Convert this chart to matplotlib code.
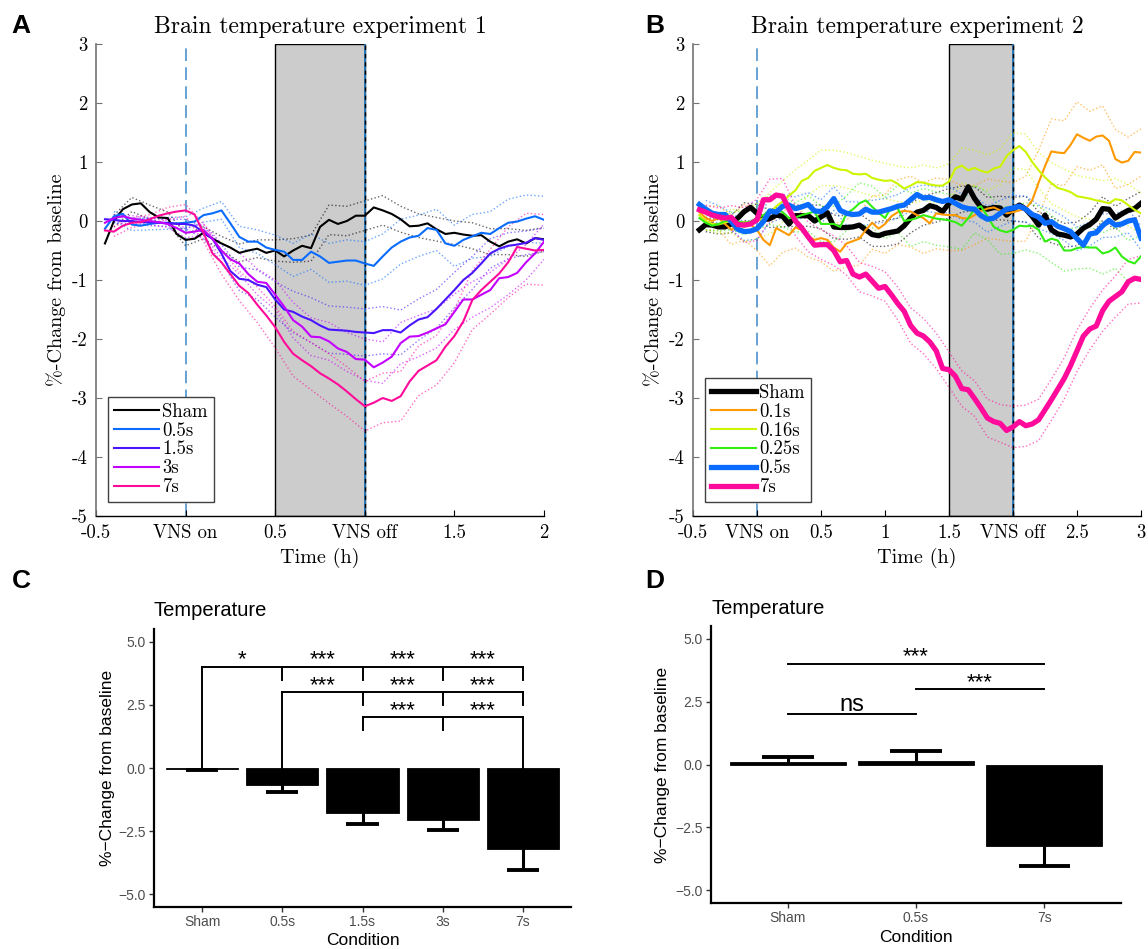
import numpy as np
import matplotlib.pyplot as plt
from matplotlib.patches import Rectangle

plt.rcParams['font.family'] = ['Liberation Sans', 'DejaVu Sans']
plt.rcParams['axes.unicode_minus'] = False

# time bins (h), 3 min apart
time_a = np.round(np.arange(50) * 0.05 - 0.45, 2)
time_b = np.round(np.arange(70) * 0.05 - 0.45, 2)

# ---- experiment 1: mean %-change per group ----
sham_a = [-0.38, 0.0, 0.2, 0.28, 0.3, 0.15, 0.06, 0.05, -0.22, -0.32,
          -0.3, -0.2, -0.3, -0.38, -0.45, -0.54, -0.5, -0.47, -0.54, -0.5,
          -0.6, -0.5, -0.42, -0.46, -0.1, 0.02, -0.05, 0.0, 0.09, 0.09,
          0.23, 0.18, 0.12, 0.03, -0.09, -0.08, -0.04, -0.14, -0.22, -0.2,
          -0.23, -0.25, -0.24, -0.35, -0.43, -0.35, -0.31, -0.38, -0.29, -0.31]
s05_a = [-0.13, 0.08, 0.12, -0.06, -0.08, -0.05, -0.03, -0.04, -0.04, -0.03,
         -0.01, 0.1, 0.13, 0.18, -0.04, -0.27, -0.35, -0.35, -0.45, -0.49,
         -0.52, -0.66, -0.66, -0.52, -0.6, -0.71, -0.69, -0.67, -0.67, -0.72,
         -0.76, -0.6, -0.45, -0.35, -0.28, -0.25, -0.12, -0.15, -0.38, -0.42,
         -0.32, -0.26, -0.2, -0.22, -0.12, -0.03, -0.01, 0.04, 0.08, 0.02]
s15_a = [0.03, 0.02, 0.0, 0.0, -0.02, -0.02, -0.03, -0.03, -0.05, -0.05,
         -0.08, -0.2, -0.3, -0.55, -0.85, -0.98, -1.0, -1.08, -1.12, -1.33,
         -1.5, -1.54, -1.62, -1.68, -1.77, -1.84, -1.85, -1.86, -1.88, -1.89,
         -1.9, -1.85, -1.85, -1.89, -1.77, -1.67, -1.63, -1.49, -1.33, -1.17,
         -1.0, -0.88, -0.72, -0.55, -0.47, -0.42, -0.4, -0.37, -0.29, -0.32]
s3_a = [-0.03, 0.05, 0.08, 0.04, 0.02, 0.0, -0.02, -0.05, -0.12, -0.2,
        -0.18, -0.15, -0.3, -0.5, -0.65, -0.72, -0.9, -1.03, -1.05, -1.25,
        -1.45, -1.68, -1.79, -1.96, -1.97, -2.04, -2.16, -2.22, -2.34, -2.35,
        -2.48, -2.4, -2.3, -2.07, -1.96, -1.95, -1.89, -1.82, -1.75, -1.54,
        -1.33, -1.33, -1.25, -1.17, -0.97, -0.95, -0.88, -0.7, -0.55, -0.35]
s7_a = [-0.16, -0.18, -0.08, -0.03, -0.02, 0.03, 0.09, 0.13, 0.16, 0.18,
        0.11, -0.2, -0.55, -0.7, -0.9, -1.1, -1.22, -1.42, -1.6, -1.8,
        -2.05, -2.25, -2.36, -2.46, -2.58, -2.67, -2.77, -2.89, -3.02, -3.14,
        -3.08, -3.0, -3.05, -2.97, -2.72, -2.54, -2.45, -2.36, -2.13, -1.95,
        -1.7, -1.34, -1.17, -1.03, -0.89, -0.7, -0.44, -0.47, -0.5, -0.49]

# SEM, every second bin (t = -0.4 ... 2.0)
sem_sham_a = [0.1, 0.12, 0.12, 0.1, 0.1, 0.1, 0.12, 0.15, 0.15, 0.18, 0.2, 0.22, 0.25,
              0.25, 0.25, 0.25, 0.22, 0.2, 0.2, 0.2, 0.22, 0.22, 0.22, 0.22, 0.2]
sem_05_a = [0.08, 0.1, 0.1, 0.1, 0.1, 0.12, 0.15, 0.18, 0.2, 0.25, 0.28, 0.3, 0.33,
            0.35, 0.37, 0.38, 0.38, 0.35, 0.35, 0.35, 0.37, 0.38, 0.4, 0.4, 0.4]
sem_15_a = [0.05, 0.05, 0.06, 0.06, 0.08, 0.1, 0.15, 0.2, 0.25, 0.3, 0.35, 0.38, 0.4,
            0.4, 0.4, 0.4, 0.38, 0.35, 0.33, 0.3, 0.28, 0.25, 0.22, 0.2, 0.2]
sem_3_a = [0.05, 0.05, 0.06, 0.06, 0.08, 0.1, 0.12, 0.18, 0.22, 0.25, 0.3, 0.32, 0.32,
           0.33, 0.35, 0.35, 0.35, 0.35, 0.33, 0.3, 0.3, 0.3, 0.3, 0.3, 0.3]
sem_7_a = [0.08, 0.08, 0.08, 0.1, 0.1, 0.15, 0.2, 0.25, 0.3, 0.35, 0.38, 0.4, 0.42,
           0.42, 0.42, 0.42, 0.42, 0.42, 0.42, 0.45, 0.5, 0.55, 0.6, 0.6, 0.6]

# ---- experiment 2 ----
sham_b = [-0.15, -0.06, -0.07, -0.1, -0.1, -0.05, 0.05, 0.16, 0.23, 0.13,
          0.02, 0.04, 0.1, 0.08, -0.05, 0.09, 0.09, 0.09, 0.0, 0.07,
          0.14, -0.1, -0.11, -0.11, -0.1, -0.07, -0.15, -0.23, -0.25, -0.21,
          -0.19, -0.17, -0.08, 0.05, 0.15, 0.18, 0.26, 0.23, 0.16, 0.3,
          0.41, 0.37, 0.58, 0.38, 0.23, 0.2, 0.23, 0.22, 0.1, 0.2,
          0.27, 0.2, 0.08, -0.07, 0.1, -0.15, -0.22, -0.24, -0.27, -0.22,
          -0.12, -0.06, 0.03, 0.21, 0.2, 0.05, 0.12, 0.18, 0.21, 0.3]
s01_b = [0.15, 0.05, 0.0, 0.05, -0.05, -0.15, -0.05, -0.02, -0.06, -0.15,
         -0.32, -0.41, -0.12, -0.18, -0.24, -0.11, -0.15, -0.26, -0.32, -0.29,
         -0.32, -0.45, -0.52, -0.38, -0.34, -0.3, -0.15, -0.03, -0.13, -0.05,
         0.08, 0.15, 0.17, 0.16, 0.1, 0.05, -0.04, 0.13, 0.11, 0.1,
         0.1, 0.05, 0.04, 0.1, 0.17, 0.21, 0.23, 0.18, 0.13, 0.15,
         0.18, 0.21, 0.35, 0.65, 0.93, 1.18, 1.16, 1.15, 1.29, 1.47,
         1.41, 1.36, 1.43, 1.45, 1.36, 1.05, 0.99, 1.02, 1.17, 1.16]
s016_b = [0.1, 0.0, -0.05, -0.06, -0.02, 0.0, -0.05, -0.1, -0.05, 0.0,
          0.05, 0.13, 0.25, 0.33, 0.43, 0.52, 0.68, 0.73, 0.85, 0.9,
          0.95, 0.9, 0.87, 0.86, 0.8, 0.79, 0.8, 0.73, 0.7, 0.68,
          0.69, 0.63, 0.55, 0.6, 0.66, 0.65, 0.62, 0.6, 0.6, 0.67,
          0.89, 0.94, 0.86, 0.9, 0.85, 0.82, 0.89, 0.92, 1.1, 1.2,
          1.27, 1.17, 1.0, 0.86, 0.74, 0.64, 0.56, 0.53, 0.49, 0.42,
          0.4, 0.38, 0.35, 0.33, 0.3, 0.37, 0.35, 0.27, 0.19, 0.13]
s025_b = [0.05, -0.03, -0.08, -0.05, 0.0, 0.0, -0.01, -0.03, -0.01, 0.05,
          0.1, 0.19, 0.18, 0.15, 0.05, 0.06, 0.1, 0.13, 0.16, -0.05,
          -0.05, -0.05, -0.1, 0.13, 0.2, 0.3, 0.35, 0.24, 0.14, 0.05,
          0.24, 0.21, 0.0, 0.02, 0.05, 0.1, 0.07, 0.04, 0.03, 0.01,
          -0.02, -0.08, 0.05, 0.2, 0.25, 0.08, -0.1, -0.16, -0.19, -0.15,
          -0.08, -0.09, -0.08, -0.15, -0.35, -0.3, -0.33, -0.5, -0.5, -0.46,
          -0.44, -0.45, -0.45, -0.55, -0.52, -0.45, -0.6, -0.68, -0.72, -0.6]
s05_b = [0.28, 0.2, 0.13, 0.11, 0.11, -0.01, -0.14, -0.18, -0.17, -0.13,
         -0.01, 0.17, 0.15, 0.25, 0.27, 0.21, 0.24, 0.28, 0.17, 0.16,
         0.24, 0.38, 0.18, 0.13, 0.11, 0.12, 0.2, 0.15, 0.15, 0.18,
         0.21, 0.25, 0.27, 0.36, 0.45, 0.39, 0.4, 0.36, 0.33, 0.36,
         0.3, 0.24, 0.21, 0.2, 0.09, 0.03, 0.05, 0.13, 0.2, 0.22,
         0.25, 0.2, 0.11, 0.07, -0.04, -0.01, -0.09, -0.13, -0.18, -0.3,
         -0.41, -0.22, -0.2, -0.08, 0.01, -0.07, -0.05, 0.0, 0.02, -0.29]
s7_b = [0.19, 0.15, 0.1, 0.07, 0.05, 0.06, -0.06, -0.07, -0.05, 0.02,
        0.36, 0.36, 0.44, 0.42, 0.2, 0.0, -0.12, -0.27, -0.41, -0.4,
        -0.4, -0.5, -0.69, -0.67, -0.9, -0.95, -0.9, -1.02, -1.14, -1.11,
        -1.25, -1.4, -1.53, -1.77, -1.9, -1.95, -2.05, -2.2, -2.5, -2.52,
        -2.63, -2.84, -2.86, -3.01, -3.17, -3.34, -3.4, -3.43, -3.55, -3.49,
        -3.4, -3.47, -3.44, -3.37, -3.2, -3.03, -2.85, -2.67, -2.45, -2.2,
        -1.95, -1.83, -1.78, -1.52, -1.36, -1.28, -1.2, -1.03, -0.97, -0.99]

# SEM, every second bin (t = -0.4 ... 3.0)
sem_sham_b = [0.12, 0.12, 0.15, 0.15, 0.15, 0.15, 0.18, 0.18, 0.18, 0.2, 0.2, 0.2,
              0.2, 0.2, 0.22, 0.22, 0.25, 0.25, 0.25, 0.25, 0.22, 0.2, 0.2, 0.2,
              0.2, 0.22, 0.22, 0.22, 0.2, 0.2, 0.2, 0.2, 0.2, 0.2, 0.2]
sem_01_b = [0.2, 0.2, 0.25, 0.3, 0.35, 0.35, 0.35, 0.35, 0.35, 0.4, 0.4, 0.4,
            0.45, 0.45, 0.5, 0.55, 0.6, 0.6, 0.6, 0.6, 0.55, 0.5, 0.5, 0.5,
            0.5, 0.55, 0.55, 0.55, 0.55, 0.55, 0.5, 0.5, 0.5, 0.4, 0.4]
sem_016_b = [0.15, 0.15, 0.2, 0.25, 0.3, 0.35, 0.35, 0.35, 0.3, 0.3, 0.3, 0.3,
             0.3, 0.3, 0.3, 0.3, 0.3, 0.3, 0.3, 0.3, 0.3, 0.3, 0.3, 0.3,
             0.3, 0.3, 0.3, 0.35, 0.35, 0.35, 0.35, 0.35, 0.35, 0.35, 0.35]
sem_025_b = [0.12, 0.12, 0.15, 0.2, 0.2, 0.25, 0.25, 0.25, 0.3, 0.3, 0.3, 0.3,
             0.35, 0.35, 0.35, 0.4, 0.45, 0.45, 0.45, 0.45, 0.4, 0.4, 0.4, 0.4,
             0.4, 0.4, 0.4, 0.4, 0.35, 0.35, 0.35, 0.35, 0.35, 0.35, 0.35]
sem_05_b = [0.15, 0.15, 0.15, 0.15, 0.18, 0.2, 0.2, 0.2, 0.2, 0.2, 0.2, 0.2,
            0.2, 0.2, 0.2, 0.2, 0.2, 0.22, 0.22, 0.22, 0.22, 0.22, 0.22, 0.22,
            0.22, 0.22, 0.2, 0.2, 0.2, 0.2, 0.2, 0.2, 0.2, 0.2, 0.2]
sem_7_b = [0.12, 0.15, 0.2, 0.3, 0.35, 0.35, 0.3, 0.25, 0.25, 0.25, 0.25, 0.25,
           0.25, 0.25, 0.25, 0.28, 0.3, 0.3, 0.3, 0.3, 0.3, 0.3, 0.32, 0.32,
           0.35, 0.35, 0.35, 0.35, 0.35, 0.35, 0.35, 0.35, 0.35, 0.38, 0.4]

# ---- bar summaries ----
conds_c = ['Sham', '0.5s', '1.5s', '3s', '7s']
mean_c = [-0.03, -0.68, -1.78, -2.05, -3.22]
sem_c = [0.05, 0.27, 0.45, 0.41, 0.8]

conds_d = ['Sham', '0.5s', '7s']
mean_d = [0.08, 0.12, -3.22]
sem_d = [0.2, 0.4, 0.8]

# significance brackets: (x from, x to, height)
lines_c = [(1, 5, 4.0), (2, 5, 3.0), (3, 5, 2.0)]
# vertical ticks of the brackets: (x, top, bottom)
drops_c = [(1, 4.0, 0.0), (2, 4.0, 3.5), (3, 4.0, 3.5), (4, 4.0, 3.5), (5, 4.0, 3.5),
           (2, 3.0, 0.0), (3, 3.0, 2.5), (4, 3.0, 2.5), (5, 3.0, 2.5),
           (3, 2.0, 1.5), (4, 2.0, 1.5), (5, 2.0, 0.0)]
stars_c = [(1.5, 4.0, '*'), (2.5, 4.0, '***'), (3.5, 4.0, '***'), (4.5, 4.0, '***'),
           (2.5, 3.0, '***'), (3.5, 3.0, '***'), (4.5, 3.0, '***'),
           (3.5, 2.0, '***'), (4.5, 2.0, '***')]
lines_d = [(1, 3, 4.0), (2, 3, 3.0), (1, 2, 2.0)]
stars_d = [(2, 4.0, '***'), (2.5, 3.0, '***'), (1.5, 2.0, 'ns')]

CM = 'cmr10'
W, H = 1148, 949

fig = plt.figure(figsize=(W / 100, H / 100), dpi=100)


def px_axes(left, top, right, bottom):
    return fig.add_axes([left / W, 1 - bottom / H, (right - left) / W, (bottom - top) / H])


def trace_panel(ax, t, groups, t_off, xmax, xticklabels, title):
    ax.add_patch(Rectangle((t_off - 0.5, -5), 0.5, 8, facecolor='#cccccc',
                           edgecolor='black', lw=1.0, zorder=1))
    ax.axvline(0, color='#5a9bd0', lw=1.3, dashes=(7, 3.5), zorder=1.5)
    ax.axvline(t_off, color='#1f77c0', lw=1.3, zorder=1.5)
    ax.axvline(t_off, color='black', lw=1.0, dashes=(3, 3), zorder=1.6)
    handles = []
    for label, mean, sem, color, lw in groups:
        mean = np.asarray(mean)
        sem = np.asarray(sem)
        ts, ms = t[1::2], mean[1::2]
        ax.plot(ts, ms + sem, ':', color=color, lw=1.0, alpha=0.6, zorder=2)
        ax.plot(ts, ms - sem, ':', color=color, lw=1.0, alpha=0.6, zorder=2)
        h, = ax.plot(t, mean, '-', color=color, lw=lw, label=label, zorder=3)
        handles.append(h)

    ax.set_xlim(-0.5, xmax)
    ax.set_ylim(-5, 3)
    ax.set_xticks(np.arange(-0.5, xmax + 0.01, 0.5))
    ax.set_xticklabels(xticklabels, fontfamily=CM, fontsize=13.5)
    ax.set_yticks(range(-5, 4))
    ax.set_yticklabels([str(v) for v in range(-5, 4)], fontfamily=CM, fontsize=13.5)
    ax.tick_params(direction='in', length=4, width=0.8, pad=6)
    for s in ('top', 'right'):
        ax.spines[s].set_visible(False)
    ax.spines['left'].set_color('0.45')
    ax.spines['left'].set_linewidth(1.2)
    ax.spines['bottom'].set_linewidth(1.0)
    ax.tick_params(axis='y', colors='0.45', labelcolor='black')

    ax.set_title(title, fontfamily=CM, fontsize=17, pad=8)
    ax.set_xlabel('Time (h)', fontfamily=CM, fontsize=14.5)
    ax.set_ylabel('%-Change from baseline', fontfamily=CM, fontsize=14.5)
    ax.xaxis.set_label_coords(0.5, -0.068)
    ax.yaxis.set_label_coords(-0.067, 0.5)

    leg = ax.legend(handles=handles, loc='lower left', bbox_to_anchor=(0.027, 0.03),
                    borderaxespad=0, fancybox=False, framealpha=1, edgecolor='0.25',
                    handlelength=2.4, handletextpad=0.2, labelspacing=0.05,
                    borderpad=0.3, prop={'family': CM, 'size': 13.5})
    leg.get_frame().set_linewidth(1.0)


def bar_panel(ax, conds, means, sems, lines, drops, stars):
    x = np.arange(1, len(conds) + 1)
    ax.bar(x, means, width=0.9, color='black', edgecolor='black', lw=0.6, zorder=2)
    # one-sided error bars, pointing away from zero
    for xi, m, s in zip(x, means, sems):
        end = m - s if m < 0 else m + s
        ax.plot([xi, xi], [m, end], color='black', lw=2.2, zorder=3, solid_capstyle='butt')
        ax.plot([xi - 0.2, xi + 0.2], [end, end], color='black', lw=2.8, zorder=3,
                solid_capstyle='butt')
    for x0, x1, y in lines:
        ax.plot([x0, x1], [y, y], color='black', lw=1.4, zorder=3)
    for xi, top, bottom in drops:
        ax.plot([xi, xi], [top, bottom], color='black', lw=1.4, zorder=3)
    for xi, y, txt in stars:
        if txt == 'ns':
            ax.text(xi, y + 0.12, txt, ha='center', va='baseline', fontsize=17)
        else:
            ax.text(xi, y + 0.05, txt, ha='center', va='baseline', fontsize=16)

    ax.set_xlim(0.4, len(conds) + 0.6)
    ax.set_ylim(-5.5, 5.5)
    ax.set_xticks(x)
    ax.set_xticklabels(conds)
    ax.set_yticks([-5, -2.5, 0, 2.5, 5])
    ax.set_yticklabels(['\u22125.0', '\u22122.5', '0.0', '2.5', '5.0'])
    ax.tick_params(direction='out', length=3.5, width=1.0, color='#333333',
                   labelcolor='#4d4d4d', labelsize=10, pad=2.5)
    for s in ('top', 'right'):
        ax.spines[s].set_visible(False)
    for s in ('left', 'bottom'):
        ax.spines[s].set_linewidth(1.6)
    ax.set_title('Temperature', loc='left', fontsize=14.5, pad=9)
    ax.set_xlabel('Condition', fontsize=12.5)
    ax.set_ylabel('%\u2212Change from baseline', fontsize=12.5)


ax_a = px_axes(96, 44, 544, 516)
groups_a = [('Sham', sham_a, sem_sham_a, 'black', 1.5),
            ('0.5s', s05_a, sem_05_a, '#0a6cff', 1.5),
            ('1.5s', s15_a, sem_15_a, '#4a14ff', 1.5),
            ('3s', s3_a, sem_3_a, '#c400ff', 1.5),
            ('7s', s7_a, sem_7_a, '#ff0a9a', 1.5)]
trace_panel(ax_a, time_a, groups_a, 1.0, 2.0,
            ['-0.5', 'VNS on', '0.5', 'VNS off', '1.5', '2'],
            'Brain temperature experiment 1')

ax_b = px_axes(693, 44, 1141, 516)
groups_b = [('Sham', sham_b, sem_sham_b, 'black', 3.8),
            ('0.1s', s01_b, sem_01_b, '#ff9900', 1.5),
            ('0.16s', s016_b, sem_016_b, '#ccf500', 1.5),
            ('0.25s', s025_b, sem_025_b, '#33ee11', 1.5),
            ('0.5s', s05_b, sem_05_b, '#0a6cff', 3.8),
            ('7s', s7_b, sem_7_b, '#ff0a9a', 3.8)]
trace_panel(ax_b, time_b, groups_b, 2.0, 3.0,
            ['-0.5', 'VNS on', '0.5', '1', '1.5', 'VNS off', '2.5', '3'],
            'Brain temperature experiment 2')

ax_c = px_axes(154, 629, 571, 907)
bar_panel(ax_c, conds_c, mean_c, sem_c, lines_c, drops_c, stars_c)
ax_c.xaxis.set_label_coords(0.5, -0.094)
ax_c.yaxis.set_label_coords(-0.094, 0.5)

ax_d = px_axes(711, 626, 1121, 903)
bar_panel(ax_d, conds_d, mean_d, sem_d, lines_d, [], stars_d)
ax_d.xaxis.set_label_coords(0.5, -0.097)
ax_d.yaxis.set_label_coords(-0.1, 0.5)

for x, y, s in [(11, 33, 'A'), (645, 33, 'B'), (12, 588, 'C'), (645, 588, 'D')]:
    fig.text(x / W, 1 - y / H, s, fontsize=19, fontweight='bold', va='baseline', ha='left')

fig.savefig('out.png', dpi=100)
